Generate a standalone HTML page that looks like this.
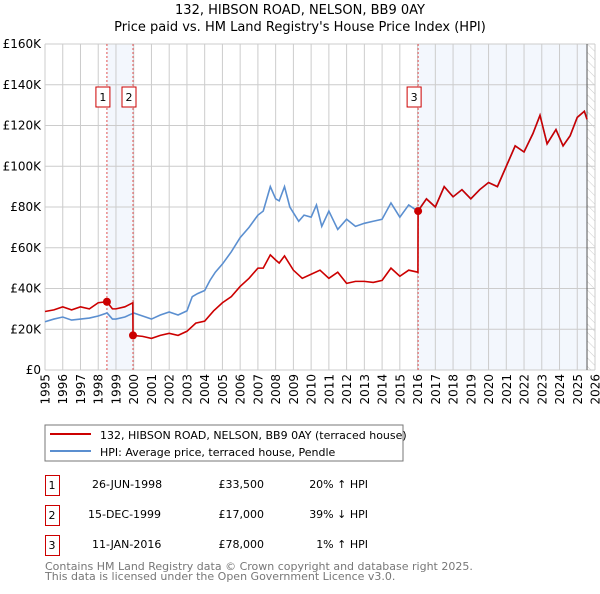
<!DOCTYPE html>
<html><head><meta charset="utf-8"><style>
body{margin:0;background:#fff;width:600px;height:590px;overflow:hidden;font-family:"DejaVu Sans","Liberation Sans",sans-serif}
svg text{font-family:"DejaVu Sans","Liberation Sans",sans-serif}
</style></head><body>
<svg id="c" width="600" height="590">
<defs><pattern id="hatch" width="6" height="6" patternUnits="userSpaceOnUse" patternTransform="rotate(-45)"><line x1="0" y1="0" x2="0" y2="6" stroke="#ccc" stroke-width="1"/></pattern></defs>
<text x="300" y="14" text-anchor="middle" font-size="13">132, HIBSON ROAD, NELSON, BB9 0AY</text>
<text x="300" y="31" text-anchor="middle" font-size="13">Price paid vs. HM Land Registry's House Price Index (HPI)</text>
<g id="plot"></g>
<rect x="45" y="425" width="358" height="36" fill="#fff" stroke="#777"/>
<line x1="50" y1="434" x2="91" y2="434" stroke="#cc0000" stroke-width="2"/>
<text x="100" y="439" font-size="11">132, HIBSON ROAD, NELSON, BB9 0AY (terraced house)</text>
<line x1="50" y1="451" x2="91" y2="451" stroke="#5b8fd0" stroke-width="2"/>
<text x="100" y="456" font-size="11">HPI: Average price, terraced house, Pendle</text>
<g font-size="11">
<rect x="45.5" y="475.5" width="14" height="20" fill="none" stroke="#cc0000"/><text x="52" y="489" text-anchor="middle">1</text>
<text x="92" y="488">26-JUN-1998</text><text x="264" y="488" text-anchor="end">£33,500</text><text x="368" y="488" text-anchor="end">20% ↑ HPI</text>
<rect x="45.5" y="505.5" width="14" height="20" fill="none" stroke="#cc0000"/><text x="52" y="519" text-anchor="middle">2</text>
<text x="88" y="518">15-DEC-1999</text><text x="264" y="518" text-anchor="end">£17,000</text><text x="368" y="518" text-anchor="end">39% ↓ HPI</text>
<rect x="45.5" y="535.5" width="14" height="20" fill="none" stroke="#cc0000"/><text x="52" y="549" text-anchor="middle">3</text>
<text x="92" y="548">11-JAN-2016</text><text x="264" y="548" text-anchor="end">£78,000</text><text x="368" y="548" text-anchor="end">1% ↑ HPI</text>
</g>
<text x="45" y="570" font-size="11" fill="#777">Contains HM Land Registry data © Crown copyright and database right 2025.</text>
<text x="45" y="580" font-size="11" fill="#777">This data is licensed under the Open Government Licence v3.0.</text>
</svg>
<script>
const hpiYears=[1995,1995.5,1996,1996.5,1997,1997.5,1998,1998.5,1998.8,1999,1999.5,2000,2000.5,2001,2001.5,2002,2002.5,2003,2003.3,2003.6,2004,2004.3,2004.6,2005,2005.5,2006,2006.5,2007,2007.3,2007.7,2008,2008.2,2008.5,2008.8,2009.3,2009.6,2010,2010.3,2010.6,2011,2011.5,2012,2012.5,2013,2013.5,2014,2014.5,2015,2015.5,2016,2016.5,2017,2017.5,2018,2018.5,2019,2019.5,2020,2020.5,2021,2021.5,2022,2022.5,2022.9,2023.3,2023.8,2024.2,2024.6,2025,2025.4,2025.55];
const hpiValues=[23.7,25,26,24.5,25,25.5,26.5,28,25,25,26,28,26.5,25,27,28.5,27,29,36,37.5,39,44,48,52,58,65,70,76,78,90,84,83,90,80,73,76,75,81,70.5,78,69,74,70.5,72,73,74,82,75,81,78,84,80,90,85,88.5,84,88.5,92,90,100,110,107,116,125,111,118,110,115,124,127,123];
const ppYears=[1995,1995.5,1996,1996.5,1997,1997.5,1998,1998.49,1998.8,1999,1999.5,1999.95,1999.96,2000.5,2001,2001.5,2002,2002.5,2003,2003.5,2004,2004.5,2005,2005.5,2006,2006.5,2007,2007.3,2007.7,2008,2008.2,2008.5,2009,2009.5,2010,2010.5,2011,2011.5,2012,2012.5,2013,2013.5,2014,2014.5,2015,2015.5,2016.02,2016.03,2016.5,2017,2017.5,2018,2018.5,2019,2019.5,2020,2020.5,2021,2021.5,2022,2022.5,2022.9,2023.3,2023.8,2024.2,2024.6,2025,2025.4,2025.55];
const ppValues=[28.7,29.5,31,29.5,31,30,33,33.5,30,30,31,33,17,16.5,15.5,17,18,17,19,23,24,29,33,36,41,45,50,50,56.5,54,52.5,56,49,45,47,49,45,48,42.5,43.5,43.5,43,44,50,46,49,48,78,84,80,90,85,88.5,84,88.5,92,90,100,110,107,116,125,111,118,110,115,124,127,123];
const saleYears=[1998.49,1999.96,2016.03];
const saleValues=[33.5,17,78];
const yTicks=[0,20,40,60,80,100,120,140,160];
const xTicks=[1995,1996,1997,1998,1999,2000,2001,2002,2003,2004,2005,2006,2007,2008,2009,2010,2011,2012,2013,2014,2015,2016,2017,2018,2019,2020,2021,2022,2023,2024,2025,2026];
const X0=45,X1=595,Y0=370,Y1=44,NS='http://www.w3.org/2000/svg';
const xs=y=>X0+(y-1995)/31*(X1-X0);
const ys=v=>Y0-v/160*(Y0-Y1);
const g=document.getElementById('plot');
function mk(t,a){const e=document.createElementNS(NS,t);for(const k in a)e.setAttribute(k,a[k]);g.appendChild(e);return e;}
let e=mk('rect',{x:xs(saleYears[0]),y:Y1,width:xs(saleYears[1])-xs(saleYears[0]),height:Y0-Y1,fill:'#eef3fc',opacity:0.7});


e=mk('rect',{x:xs(saleYears[2]),y:Y1,width:xs(2025.55)-xs(saleYears[2]),height:Y0-Y1,fill:'#eef3fc',opacity:0.7});


e=mk('rect',{x:xs(2025.55),y:Y1,width:X1-xs(2025.55),height:Y0-Y1,fill:'url(#hatch)'});


xTicks.forEach(t=>{const l=mk('line',{x1:xs(t),x2:xs(t),y1:Y1,y2:Y0,stroke:'#ccc'});


const tx=mk('text',{x:0,y:0,'text-anchor':'end','font-size':12,transform:'translate('+(xs(t)+4.5)+','+(Y0+4)+') rotate(-90)'});tx.textContent=t;

});
yTicks.forEach(t=>{const l=mk('line',{x1:X0,x2:X1,y1:ys(t),y2:ys(t),stroke:'#ccc'});


const tx=mk('text',{x:X0-4,y:ys(t)+4,'text-anchor':'end','font-size':12});tx.textContent='£'+(t?t+'K':'0');

});
e=mk('line',{x1:xs(2025.55),x2:xs(2025.55),y1:Y1,y2:Y0,stroke:'#555'});


saleYears.forEach((s,i)=>{const l=mk('line',{x1:xs(s),x2:xs(s),y1:Y1,y2:Y0,stroke:'#e05050','stroke-dasharray':'2,2'});


const bx=xs(s)-4-7;
const r=mk('rect',{x:bx,y:87,width:14,height:20,fill:'#fff',stroke:'#cc0000'});


const t=mk('text',{x:bx+7,y:101,'text-anchor':'middle','font-size':11});t.textContent=i+1;

});
e=mk('polyline',{points:hpiYears.map((y,i)=>xs(y)+','+ys(hpiValues[i])).join(' '),fill:'none',stroke:'#5b8fd0','stroke-width':1.6});


e=mk('polyline',{points:ppYears.map((y,i)=>xs(y)+','+ys(ppValues[i])).join(' '),fill:'none',stroke:'#cc0000','stroke-width':1.6});


saleYears.forEach((s,i)=>{const c=mk('circle',{cx:xs(s),cy:ys(saleValues[i]),r:4,fill:'#cc0000'});

});
</script>
</body></html>
